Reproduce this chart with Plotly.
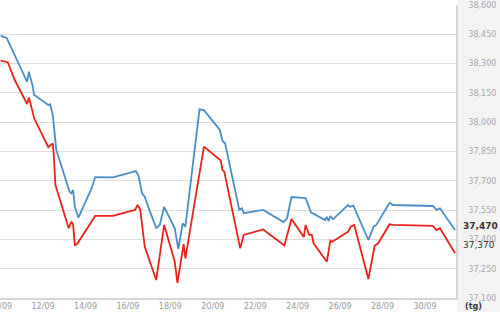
import plotly.graph_objects as go

blue_time = [
    "2023-09-10 00:00", "2023-09-10 07:00", "2023-09-11 06:00", "2023-09-11 08:00", "2023-09-11 12:00",
    "2023-09-11 14:00", "2023-09-12 06:00", "2023-09-12 08:00", "2023-09-12 11:00", "2023-09-12 15:00",
    "2023-09-13 06:00", "2023-09-13 08:00", "2023-09-13 10:00", "2023-09-13 12:00", "2023-09-13 16:00",
    "2023-09-14 07:00", "2023-09-14 11:00", "2023-09-15 07:00", "2023-09-16 09:00", "2023-09-16 12:00",
    "2023-09-16 16:00", "2023-09-16 19:00", "2023-09-17 01:00", "2023-09-17 08:00", "2023-09-17 12:00",
    "2023-09-17 17:00", "2023-09-18 05:00", "2023-09-18 09:00", "2023-09-18 14:00", "2023-09-18 17:00",
    "2023-09-19 09:00", "2023-09-19 14:00", "2023-09-20 08:00", "2023-09-20 11:00", "2023-09-20 14:00",
    "2023-09-21 06:00", "2023-09-21 09:00", "2023-09-21 11:00", "2023-09-22 09:00", "2023-09-23 08:00",
    "2023-09-23 12:00", "2023-09-23 17:00", "2023-09-24 09:00", "2023-09-24 15:00", "2023-09-25 07:00",
    "2023-09-25 09:00", "2023-09-25 11:00", "2023-09-25 13:00", "2023-09-25 16:00", "2023-09-26 09:00",
    "2023-09-26 11:00", "2023-09-26 15:00", "2023-09-27 08:00", "2023-09-27 14:00", "2023-09-27 17:00",
    "2023-09-28 08:00", "2023-09-28 12:00", "2023-09-30 09:00", "2023-09-30 13:00", "2023-09-30 17:00",
    "2023-10-01 10:00",
]
blue_price = [
    38443, 38430, 38207, 38259, 38190, 38139, 38088, 38092, 38037, 37858,
    37644, 37636, 37653, 37567, 37511, 37662, 37719, 37718, 37750, 37725,
    37636, 37619, 37542, 37458, 37474, 37567, 37457, 37351, 37482, 37465,
    38066, 38062, 37960, 37904, 37891, 37551, 37559, 37534, 37551, 37489,
    37508, 37617, 37612, 37539, 37499, 37515, 37494, 37520, 37503, 37576,
    37567, 37573, 37397, 37465, 37474, 37588, 37576, 37571, 37551, 37559,
    37448,
]

red_time = [
    "2023-09-10 00:00", "2023-09-10 08:00", "2023-09-10 16:00", "2023-09-11 06:00", "2023-09-11 08:00",
    "2023-09-11 12:00", "2023-09-11 14:00", "2023-09-12 06:00", "2023-09-12 11:00", "2023-09-12 12:00",
    "2023-09-12 14:00", "2023-09-13 05:00", "2023-09-13 08:00", "2023-09-13 10:00", "2023-09-13 12:00",
    "2023-09-13 15:00", "2023-09-14 11:00", "2023-09-15 07:00", "2023-09-16 08:00", "2023-09-16 11:00",
    "2023-09-16 14:00", "2023-09-16 19:00", "2023-09-17 08:00", "2023-09-17 17:00", "2023-09-18 05:00",
    "2023-09-18 08:00", "2023-09-18 15:00", "2023-09-18 17:00", "2023-09-19 14:00", "2023-09-20 09:00",
    "2023-09-20 11:00", "2023-09-20 13:00", "2023-09-21 07:00", "2023-09-21 11:00", "2023-09-22 09:00",
    "2023-09-23 09:00", "2023-09-23 17:00", "2023-09-24 07:00", "2023-09-24 09:00", "2023-09-24 13:00",
    "2023-09-24 16:00", "2023-09-24 18:00", "2023-09-25 09:00", "2023-09-25 13:00", "2023-09-25 15:00",
    "2023-09-26 09:00", "2023-09-26 12:00", "2023-09-26 16:00", "2023-09-27 08:00", "2023-09-27 15:00",
    "2023-09-27 19:00", "2023-09-28 08:00", "2023-09-28 12:00", "2023-09-30 09:00", "2023-09-30 13:00",
    "2023-09-30 17:00", "2023-10-01 10:00",
]
red_price = [
    38315, 38307, 38216, 38093, 38127, 38046, 38020, 37872, 37892, 37841,
    37679, 37457, 37491, 37477, 37368, 37380, 37520, 37520, 37551, 37576,
    37551, 37363, 37192, 37474, 37286, 37177, 37376, 37303, 37875, 37804,
    37755, 37747, 37354, 37423, 37451, 37369, 37504, 37412, 37474, 37423,
    37423, 37380, 37286, 37393, 37388, 37439, 37465, 37474, 37197, 37366,
    37380, 37477, 37474, 37469, 37448, 37457, 37329,
]

tick_dates = ["2023-09-%02d" % d for d in range(10, 31, 2)]
tick_text = ["%02d/09" % d for d in range(10, 31, 2)]
y_ticks = [37100, 37250, 37400, 37550, 37700, 37850, 38000, 38150, 38300, 38450, 38600]
last_labels = [37470, 37370]

fig = go.Figure()
fig.add_trace(go.Scatter(x=blue_time, y=blue_price, mode="lines",
                         line=dict(color="#4a8ec4", width=1.8)))
fig.add_trace(go.Scatter(x=red_time, y=red_price, mode="lines",
                         line=dict(color="#e8231b", width=1.8)))

fig.update_layout(
    width=500, height=312,
    margin=dict(l=0, r=44, t=5, b=14),
    paper_bgcolor="white", plot_bgcolor="white",
    showlegend=False,
    font=dict(family="DejaVu Sans", size=8, color="#9a9a9a"),
)
fig.update_xaxes(
    range=["2023-09-09 23:19", "2023-10-01 11:06"],
    tickvals=tick_dates, ticktext=tick_text,
    showgrid=False, zeroline=False,
    showline=True, linecolor="#d6d6d6", linewidth=1.5,
    ticks="", tickfont=dict(size=8, color="#999999"),
    ticklabeloverflow="allow", automargin=False,
    mirror=False,
)
fig.update_yaxes(
    range=[37100, 38600], side="right",
    tickvals=y_ticks, ticktext=["{:,}".format(v) for v in y_ticks],
    showgrid=True, gridcolor="#dddddd", gridwidth=1.3,
    zeroline=False, showline=True, linecolor="#d6d6d6", linewidth=1.5,
    ticks="outside", ticklen=9, tickcolor="rgba(0,0,0,0)",
    tickfont=dict(size=8, color="#a8a8a8"), automargin=False,
)

# light grey panel on the right side
fig.add_shape(type="rect", xref="paper", yref="paper", x0=1.002, x1=1.2, y0=-0.2, y1=1.2,
              fillcolor="#f3f3f3", line=dict(width=0), layer="below")

for v, w in zip(last_labels, ["bold", "normal"]):
    fig.add_annotation(xref="paper", yref="y", x=1, y=v, xanchor="left", yanchor="middle",
                       xshift=5, text="{:,}".format(v), showarrow=False,
                       font=dict(size=9, color="#333333", weight=w))

fig.add_annotation(xref="paper", yref="paper", x=1, y=0, xanchor="left", yanchor="middle",
                   xshift=7, yshift=-8, text="<b>(tg)</b>", showarrow=False,
                   font=dict(size=8, color="#333333"))

fig.write_html("out.html")
